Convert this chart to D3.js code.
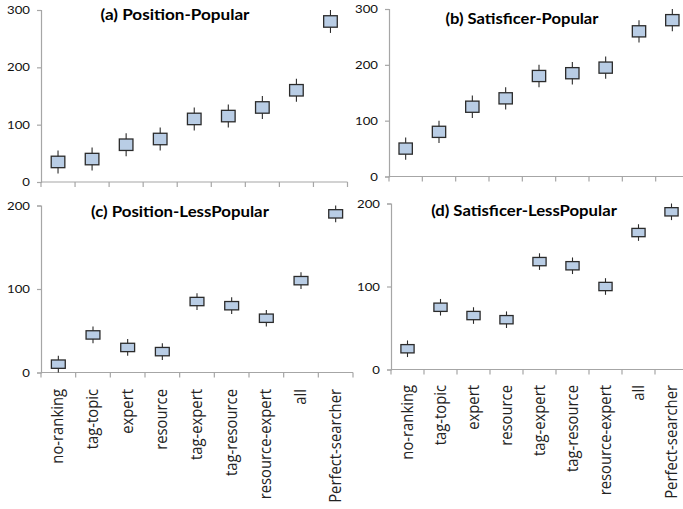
<!DOCTYPE html>
<html>
<head>
<meta charset="utf-8">
<script src="https://cdn.jsdelivr.net/npm/d3@7"></script>
<style>
  html, body { margin: 0; padding: 0; background: #fff; }
  svg { display: block; }
</style>
</head>
<body>
<svg id="chart" width="683" height="509"></svg>
<script>
// ---- data ----
const categories = ["no-ranking", "tag-topic", "expert", "resource", "tag-expert",
                    "tag-resource", "resource-expert", "all", "Perfect-searcher"];

// (a) Position-Popular
const aLow  = [15, 20, 45, 55, 90, 95, 110, 140, 260];
const aQ1   = [25, 30, 55, 65, 100, 105, 120, 150, 270];
const aQ3   = [45, 50, 75, 85, 120, 125, 140, 170, 290];
const aHigh = [55, 60, 85, 95, 130, 135, 150, 180, 300];

// (b) Satisficer-Popular
const bLow  = [30, 60, 105, 120, 160, 165, 175, 240, 260];
const bQ1   = [40, 70, 115, 130, 170, 175, 185, 250, 270];
const bQ3   = [60, 90, 135, 150, 190, 195, 205, 270, 290];
const bHigh = [70, 100, 145, 160, 200, 205, 215, 280, 300];

// (c) Position-LessPopular
const cLow  = [0, 35, 20, 15, 75, 70, 55, 100, 180];
const cQ1   = [5, 40, 25, 20, 80, 75, 60, 105, 185];
const cQ3   = [15, 50, 35, 30, 90, 85, 70, 115, 195];
const cHigh = [20, 55, 40, 35, 95, 90, 75, 120, 200];

// (d) Satisficer-LessPopular
const dLow  = [15, 65, 55, 50, 120, 115, 90, 155, 180];
const dQ1   = [20, 70, 60, 55, 125, 120, 95, 160, 185];
const dQ3   = [30, 80, 70, 65, 135, 130, 105, 170, 195];
const dHigh = [35, 85, 75, 70, 140, 135, 110, 175, 200];

const ticksPopular = [0, 100, 200, 300];
const ticksLess = [0, 100, 200];

const titles = ["(a) Position-Popular", "(b) Satisficer-Popular",
                "(c) Position-LessPopular", "(d) Satisficer-LessPopular"];

// ---- layout ----
const panels = [
  { title: titles[0], low: aLow, q1: aQ1, q3: aQ3, high: aHigh, max: 300, ticks: ticksPopular,
    x0: 41, x1: 347.5, y0: 182, yTop: 10, titleX: 175, titleY: 19.5, titleW: 149, labels: false },
  { title: titles[1], low: bLow, q1: bQ1, q3: bQ3, high: bHigh, max: 300, ticks: ticksPopular,
    x0: 389, x1: 689, y0: 176.5, yTop: 9, titleX: 522, titleY: 23.5, titleW: 153, labels: false },
  { title: titles[2], low: cLow, q1: cQ1, q3: cQ3, high: cHigh, max: 200, ticks: ticksLess,
    x0: 41, x1: 353, y0: 372.5, yTop: 205.5, titleX: 180, titleY: 217, titleW: 178, labels: true, labelY: 389 },
  { title: titles[3], low: dLow, q1: dQ1, q3: dQ3, high: dHigh, max: 200, ticks: ticksLess,
    x0: 391, x1: 688, y0: 369.5, yTop: 203.5, titleX: 524, titleY: 216, titleW: 186, labels: true, labelY: 385 }
];

const svg = d3.select("#chart");
const axisColor = "#a6a6a6";
const fill = "#b9cde5";
const edge = "#2b2b2b";
const tickFont = "Lato, 'Open Sans', sans-serif";

// measure tick digit width to get horizontal stretch like the reference
const probe = svg.append("text").style("font-family", tickFont).style("font-size", "11.5px").text("300");
const tickScale = 23 / probe.node().getComputedTextLength();
probe.remove();

panels.forEach(p => {
  const g = svg.append("g");
  const x = d3.scaleBand().domain(categories).range([p.x0, p.x1]).padding(0);
  const y = d3.scaleLinear().domain([0, p.max]).range([p.y0, p.yTop]);

  // y axis (line + ticks via d3 axis, labels drawn separately)
  const yAxis = g.append("g")
    .attr("transform", `translate(${p.x0},0)`)
    .call(d3.axisLeft(y).tickValues(p.ticks).tickSize(4).tickFormat(""));
  yAxis.select(".domain").attr("stroke", axisColor).attr("stroke-width", 1.2);
  yAxis.selectAll(".tick line").attr("stroke", axisColor).attr("stroke-width", 1.2);

  g.selectAll(".ylab").data(p.ticks).join("text")
    .attr("transform", d => `translate(${p.x0 - 11},${y(d)}) scale(${tickScale},1)`)
    .attr("text-anchor", "end")
    .attr("dy", "0.36em")
    .attr("fill", "#111")
    .style("font-family", tickFont)
    .style("font-size", "11.5px")
    .text(d => d3.format("d")(d));

  // x axis (line + ticks at category boundaries)
  const boundaries = categories.map(c => x(c)).concat([p.x1]);
  g.append("line")
    .attr("x1", p.x0).attr("x2", p.x1)
    .attr("y1", p.y0).attr("y2", p.y0)
    .attr("stroke", axisColor).attr("stroke-width", 1.2);
  g.selectAll(".xtick").data(boundaries).join("line")
    .attr("x1", d => d).attr("x2", d => d)
    .attr("y1", p.y0).attr("y2", p.y0 + 5)
    .attr("stroke", axisColor).attr("stroke-width", 1.2);

  // x labels
  if (p.labels) {
    g.selectAll(".xlab").data(categories).join("text")
      .attr("transform", d => `translate(${x(d) + x.bandwidth() / 2 + 5},${p.labelY}) rotate(-90) scale(1,1.12)`)
      .attr("text-anchor", "end")
      .attr("fill", "#222")
      .style("font-family", "'Open Sans', sans-serif")
      .style("font-size", "14.8px")
      .text(d => d);
  }

  const bw = x.bandwidth() * 0.4;
  const idx = d3.range(categories.length);
  // whiskers
  g.selectAll(".whisk").data(idx).join("line")
    .attr("x1", i => x(categories[i]) + x.bandwidth() / 2)
    .attr("x2", i => x(categories[i]) + x.bandwidth() / 2)
    .attr("y1", i => y(p.high[i]))
    .attr("y2", i => y(p.low[i]))
    .attr("stroke", edge).attr("stroke-width", 1.1);
  // boxes
  g.selectAll(".box").data(idx).join("rect")
    .attr("x", i => x(categories[i]) + x.bandwidth() / 2 - bw / 2)
    .attr("width", bw)
    .attr("y", i => y(p.q3[i]))
    .attr("height", i => y(p.q1[i]) - y(p.q3[i]))
    .attr("fill", fill)
    .attr("stroke", edge).attr("stroke-width", 1.3);

  // title (stretched horizontally to reference width)
  const t = g.append("text")
    .attr("text-anchor", "middle")
    .attr("fill", "#000")
    .style("font-family", "Lato, 'Open Sans', sans-serif")
    .style("font-weight", "bold")
    .style("font-size", "14.5px")
    .text(p.title);
  const s = p.titleW / t.node().getComputedTextLength();
  t.attr("transform", `translate(${p.titleX},${p.titleY}) scale(${s},1)`);
});
</script>
</body>
</html>
